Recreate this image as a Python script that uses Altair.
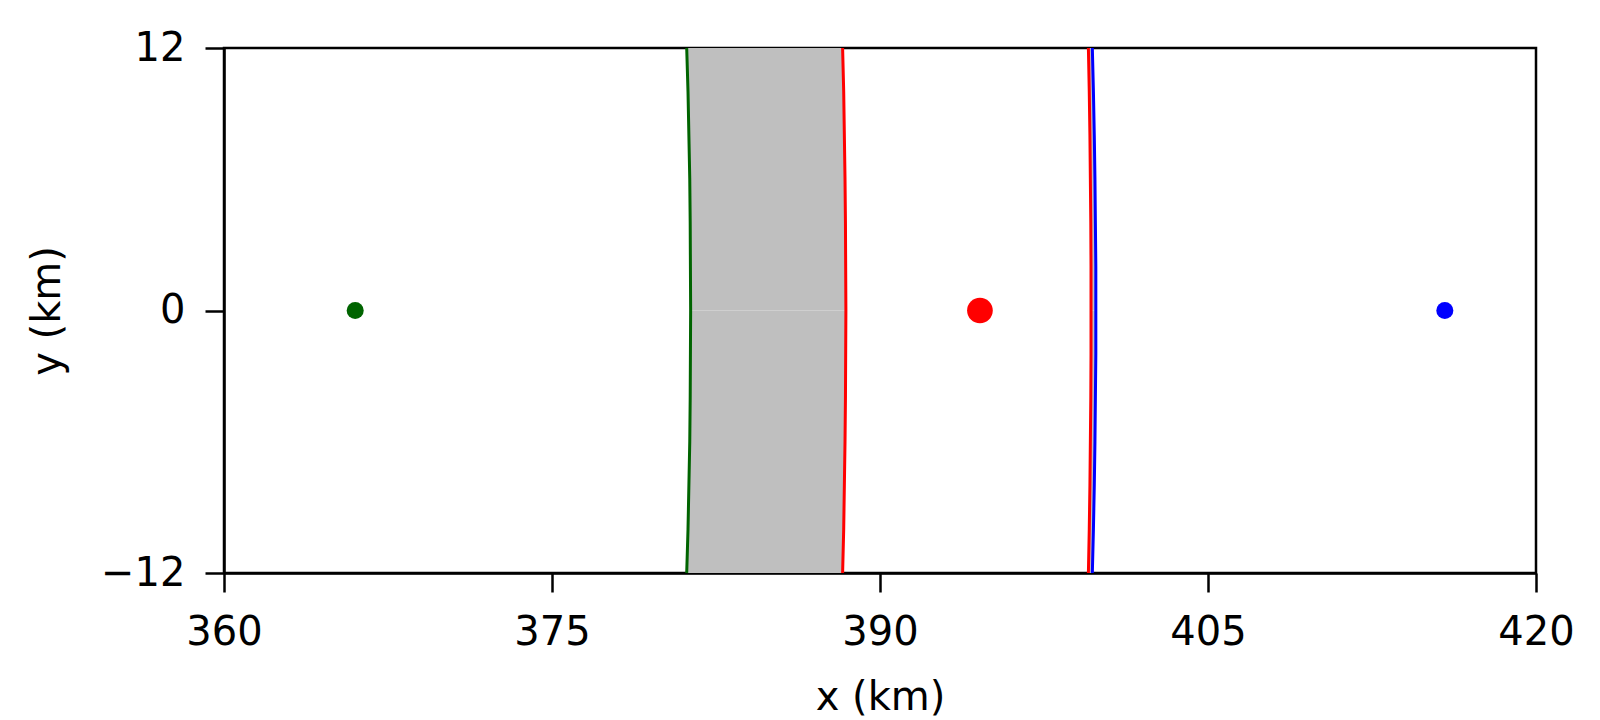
import altair as alt
import pandas as pd

# ---- data ----
y_vals = [-12, -10, -8, -6, -4, -2, 0, 2, 4, 6, 8, 10, 12]
green_x = [381.16, 381.22, 381.26, 381.30, 381.32, 381.33, 381.34,
           381.33, 381.32, 381.30, 381.26, 381.22, 381.16]
red_inner_x = [388.29, 388.34, 388.37, 388.40, 388.42, 388.43, 388.44,
               388.43, 388.42, 388.40, 388.37, 388.34, 388.29]
red_outer_x = [399.53, 399.57, 399.60, 399.62, 399.64, 399.65, 399.65,
               399.65, 399.64, 399.62, 399.60, 399.57, 399.53]
blue_x = [399.71, 399.76, 399.80, 399.83, 399.85, 399.87, 399.87,
          399.87, 399.85, 399.83, 399.80, 399.76, 399.71]

point_names = ["green", "red", "blue"]
point_x = [366.0, 394.57, 415.83]
point_y = [0, 0, 0]
point_size = [290, 660, 290]

x_ticks = [360, 375, 390, 405, 420]
y_ticks = [-12, 0, 12]

curve_colors = {"green": "#006400", "red_in": "#ff0000", "red_out": "#ff0000", "blue": "#0000ff"}

# ---- tables ----
curves = []
for name, xs in [("green", green_x), ("red_in", red_inner_x), ("red_out", red_outer_x), ("blue", blue_x)]:
    for i, (yy, xx) in enumerate(zip(y_vals, xs)):
        curves.append({"curve": name, "x": xx, "y": yy, "ord": i})
curves = pd.DataFrame(curves)

fills = []
for band, left, right in [("a", green_x, red_inner_x), ("b", red_outer_x, blue_x)]:
    for i, yy in enumerate(y_vals):
        for half in (["lo"] if yy < 0 else ["hi"] if yy > 0 else ["lo", "hi"]):
            fills.append({"part": band + half, "y": yy, "xl": left[i], "xr": right[i]})
fills = pd.DataFrame(fills)

points = pd.DataFrame({"name": point_names, "x": point_x, "y": point_y, "size": point_size})

xscale = alt.Scale(domain=[360, 420], nice=False, zero=False)
yscale = alt.Scale(domain=[-12, 12], nice=False, zero=False)
xaxis = alt.Axis(values=x_ticks, title="x (km)", grid=False, format="d", titlePadding=25,
                 labelFlush=False, labelOverlap=False)
yaxis = alt.Axis(values=y_ticks, title="y (km)", grid=False, format="d", titlePadding=33,
                 labelFlush=False, labelOverlap=False)

area = alt.Chart(fills).mark_area(orient="horizontal", color="#bfbfbf").encode(
    x=alt.X("xl:Q", scale=xscale, axis=xaxis),
    x2="xr:Q",
    y=alt.Y("y:Q", scale=yscale, axis=yaxis),
    detail="part:N",
)

lines = alt.Chart(curves).mark_line(strokeWidth=3).encode(
    x=alt.X("x:Q", scale=xscale),
    y=alt.Y("y:Q", scale=yscale),
    detail="curve:N",
    order="ord:Q",
    color=alt.Color("curve:N", scale=alt.Scale(domain=list(curve_colors.keys()),
                                               range=list(curve_colors.values())), legend=None),
)

dots = alt.Chart(points).mark_circle(opacity=1).encode(
    x=alt.X("x:Q", scale=xscale),
    y=alt.Y("y:Q", scale=yscale),
    size=alt.Size("size:Q", scale=None, legend=None),
    color=alt.Color("name:N", scale=alt.Scale(domain=point_names,
                                              range=["#006400", "#ff0000", "#0000ff"]), legend=None),
)

chart = alt.layer(area, lines, dots).resolve_scale(color="independent").properties(
    width=1312, height=525,
    autosize=alt.AutoSizeParams(type="none"),
    padding={"left": 216, "top": 40, "right": 56, "bottom": 146},
    background="white",
).configure_view(stroke="black", strokeWidth=2.5).configure_axis(
    labelFont="DejaVu Sans", labelFontSize=40, labelColor="black",
    titleFont="DejaVu Sans", titleFontSize=40, titleFontWeight="normal", titleColor="black",
    tickColor="black", tickSize=19, tickWidth=2.5, labelPadding=20,
    domainColor="black", domainWidth=2.5,
)

chart.save("out.html", embed_options={"renderer": "svg", "actions": False})
